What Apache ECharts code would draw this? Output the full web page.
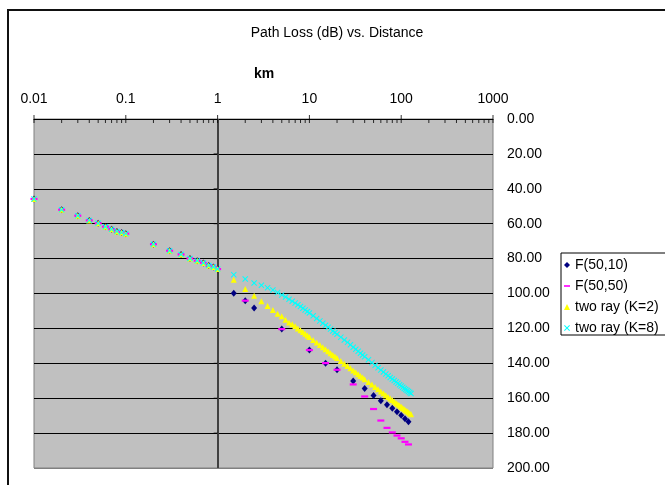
<!DOCTYPE html>
<html><head><meta charset="utf-8">
<script src="https://cdn.jsdelivr.net/npm/echarts@6/dist/echarts.min.js"></script>
<style>html,body{margin:0;padding:0;background:#fff}#c{width:665px;height:485px}</style>
</head><body><div id="c"></div>
<script>
const chartTitle = 'Path Loss (dB) vs. Distance';
const xAxisName = 'km';
const xTickLabels = ['0.01', '0.1', '1', '10', '100', '1000'];
const yTickLabels = ['0.00', '20.00', '40.00', '60.00', '80.00', '100.00', '120.00', '140.00', '160.00', '180.00', '200.00'];
const seriesNames = ['F(50,10)', 'F(50,50)', 'two ray (K=2)', 'two ray (K=8)'];

// shared short-range points (all four series coincide)
const nearDist = [0.01, 0.02, 0.03, 0.04, 0.05, 0.06, 0.07, 0.08, 0.09, 0.1, 0.2, 0.3, 0.4, 0.5, 0.6, 0.7, 0.8, 0.9, 1];
const nearLoss = [45.8, 52.0, 55.4, 58.1, 59.8, 61.7, 63.2, 64.4, 65.1, 65.7, 71.8, 75.5, 77.6, 79.9, 81.2, 82.5, 83.9, 84.8, 86.0];

const f5010Dist = [1.5, 2, 2.5, 5, 10, 15, 20, 30, 40, 50, 60, 70, 80, 90, 100, 110, 120];
const f5010Loss = [99.9, 104.1, 108.3, 120.4, 132.4, 139.9, 143.7, 150.2, 154.4, 158.4, 161.5, 163.8, 165.7, 167.8, 169.7, 171.8, 173.5];

const f5050Dist = [2, 5, 10, 15, 20, 30, 40, 50, 60, 70, 80, 90, 100, 110, 120];
const f5050Loss = [104.1, 120.4, 132.4, 139.9, 143.7, 152.1, 159.0, 166.2, 172.8, 177.0, 179.6, 181.4, 183.0, 185.0, 186.5];

const twoRayDist = [1.5, 2, 2.5, 3, 3.5, 4, 4.5, 5, 5.5, 6, 6.5, 7, 7.5, 8, 8.5, 9, 9.5, 10,
  11, 12, 13, 14, 15, 16, 17, 18, 19, 20, 22, 24, 26, 28, 30, 32, 34, 36, 38, 40,
  44, 48, 52, 56, 60, 64, 68, 72, 76, 80, 84, 88, 92, 96, 100, 104, 108, 112, 116, 120, 124, 128];
const twoRayK2Loss = [92.1, 97.4, 101.3, 104.5, 107.2, 109.5, 111.6, 113.1, 115.0, 116.6, 117.6, 118.8, 120.0, 121.1, 122.1, 123.1, 124.0, 124.9,
  126.6, 128.1, 129.5, 130.8, 132.0, 133.1, 134.2, 135.2, 136.1, 137.0, 138.7, 140.2, 141.6, 142.9, 144.1, 145.2, 146.3, 147.3, 148.2, 149.1,
  150.7, 152.2, 153.6, 154.9, 156.1, 157.2, 158.3, 159.3, 160.2, 161.1, 161.9, 162.7, 163.5, 164.2, 164.9, 165.6, 166.3, 166.9, 167.5, 168.1, 168.6, 169.2];
const twoRayK8Loss = [89.2, 91.7, 94.0, 95.3, 96.7, 98.0, 99.4, 100.8, 102.0, 103.3, 104.4, 105.5, 106.5, 107.5, 108.4, 109.4, 110.3, 111.2,
  112.8, 114.3, 115.7, 117.0, 118.2, 119.3, 120.4, 121.5, 122.4, 123.3, 125.0, 126.6, 128.0, 129.4, 130.8, 132.0, 133.1, 134.2, 135.2, 136.2,
  138.0, 139.6, 141.1, 142.5, 143.8, 145.0, 146.1, 147.1, 148.1, 149.0, 149.9, 150.7, 151.5, 152.3, 153.0, 153.7, 154.4, 155.0, 155.6, 156.2, 156.8, 157.3];

const FONT = '"Liberation Sans", Arial, sans-serif';
const X_SYMBOL = 'path://M0,1.2L1.2,0L5,3.8L8.8,0L10,1.2L6.2,5L10,8.8L8.8,10L5,6.2L1.2,10L0,8.8L3.8,5Z';
const DASH_ICON = 'path://M0,0H8V2.2H0Z';

function pairs(xs, ys) { return xs.map((x, i) => [x, ys[i]]); }
function withNear(xs, ys) { return pairs(nearDist, nearLoss).concat(pairs(xs, ys)); }

// axis tick marks (log minor ticks) drawn through the axis scale
const majorTicks = [], minorTicks = [];
for (let k = -2; k <= 3; k++) {
  const base = Math.pow(10, k);
  majorTicks.push([base, 0]);
  if (k < 3) for (let m = 2; m <= 9; m++) minorTicks.push([m * base, 0]);
}
const vTicks = [];
for (let i = 1; i < yTickLabels.length - 1; i++) vTicks.push([1, i * 20]);

const chart = echarts.init(document.getElementById('c'), null, { renderer: 'canvas' });
chart.setOption({
  animation: false,
  backgroundColor: '#ffffff',
  textStyle: { fontFamily: FONT },
  grid: { left: 34, top: 119, width: 459, height: 349, show: true, backgroundColor: '#c0c0c0', borderColor: '#808080', borderWidth: 1 },
  graphic: [
    { type: 'rect', shape: { x: 8, y: 10, width: 700, height: 500 }, style: { fill: 'none', stroke: '#111', lineWidth: 2 }, z: 100 },
    { type: 'text', style: { text: chartTitle, x: 337, y: 33, textAlign: 'center', textVerticalAlign: 'middle', font: '14px ' + FONT, fill: '#000' } },
    { type: 'text', style: { text: xAxisName, x: 264, y: 74, textAlign: 'center', textVerticalAlign: 'middle', font: 'bold 14px ' + FONT, fill: '#000' } }
  ],
  legend: {
    orient: 'vertical', left: 561, top: 253,
    itemWidth: 6, itemHeight: 6, itemGap: 7,
    padding: [5, 12, 0, 3],
    borderColor: '#000', borderWidth: 1, backgroundColor: '#fff',
    textStyle: { fontSize: 14, color: '#000', fontFamily: FONT, lineHeight: 14 },
    data: [
      { name: seriesNames[0], icon: 'diamond' },
      { name: seriesNames[1], icon: DASH_ICON },
      { name: seriesNames[2], icon: 'triangle' },
      { name: seriesNames[3], icon: X_SYMBOL }
    ]
  },
  xAxis: {
    type: 'log', logBase: 10, min: 0.01, max: 1000, splitNumber: 5, position: 'top',
    axisLine: { show: true, lineStyle: { color: '#000', width: 1 } },
    axisTick: { show: false }, minorTick: { show: false },
    splitLine: { show: false },
    axisLabel: {
      fontSize: 14, color: '#000', margin: 13, fontFamily: FONT,
      formatter: v => xTickLabels[Math.round(Math.log10(v)) + 2]
    }
  },
  yAxis: {
    type: 'value', inverse: true, min: 0, max: 200, interval: 20, position: 'right',
    axisLine: { show: false }, axisTick: { show: false },
    splitLine: { show: true, lineStyle: { color: ['#000', '#000', '#000', '#000', '#000', '#000', '#000', '#000', '#000', '#000', '#808080'], width: 1 } },
    axisLabel: {
      fontSize: 14, color: '#000', margin: 14, fontFamily: FONT,
      formatter: v => yTickLabels[Math.round(v / 20)]
    }
  },
  series: [
    {
      name: seriesNames[0], type: 'scatter', data: withNear(f5010Dist, f5010Loss),
      symbol: 'diamond', symbolSize: [6, 7], itemStyle: { color: '#000080', opacity: 1 }, z: 3,
      markLine: {
        silent: true, symbol: ['none', 'none'], label: { show: false },
        lineStyle: { color: '#404040', width: 2, type: 'solid' },
        data: [{ xAxis: 1 }], z: 1
      }
    },
    {
      name: seriesNames[1], type: 'scatter', data: withNear(f5050Dist, f5050Loss),
      symbol: 'rect', symbolSize: [7, 2.2], itemStyle: { color: '#ff00ff', opacity: 1 }, z: 4
    },
    {
      name: seriesNames[2], type: 'scatter', data: withNear(twoRayDist, twoRayK2Loss),
      symbol: 'triangle', symbolSize: [6, 6], itemStyle: { color: '#ffff00', opacity: 1 }, z: 5
    },
    {
      name: seriesNames[3], type: 'scatter', data: withNear(twoRayDist, twoRayK8Loss),
      symbol: X_SYMBOL, symbolSize: 6, itemStyle: { color: '#00ffff', opacity: 1 }, z: 6
    },
    {
      name: 'majorTicks', type: 'scatter', data: majorTicks, silent: true, clip: false,
      symbol: 'rect', symbolSize: [1, 8], itemStyle: { color: '#000' }, z: 8
    },
    {
      name: 'minorTicks', type: 'scatter', data: minorTicks, silent: true, clip: false,
      symbol: 'rect', symbolSize: [1, 4], symbolOffset: [0, 2], itemStyle: { color: '#000' }, z: 8
    },
    {
      name: 'vTicks', type: 'scatter', data: vTicks, silent: true, clip: false,
      symbol: 'rect', symbolSize: [4, 1], symbolOffset: [-2, 0], itemStyle: { color: '#000' }, z: 2
    }
  ]
});
</script>
</body></html>
